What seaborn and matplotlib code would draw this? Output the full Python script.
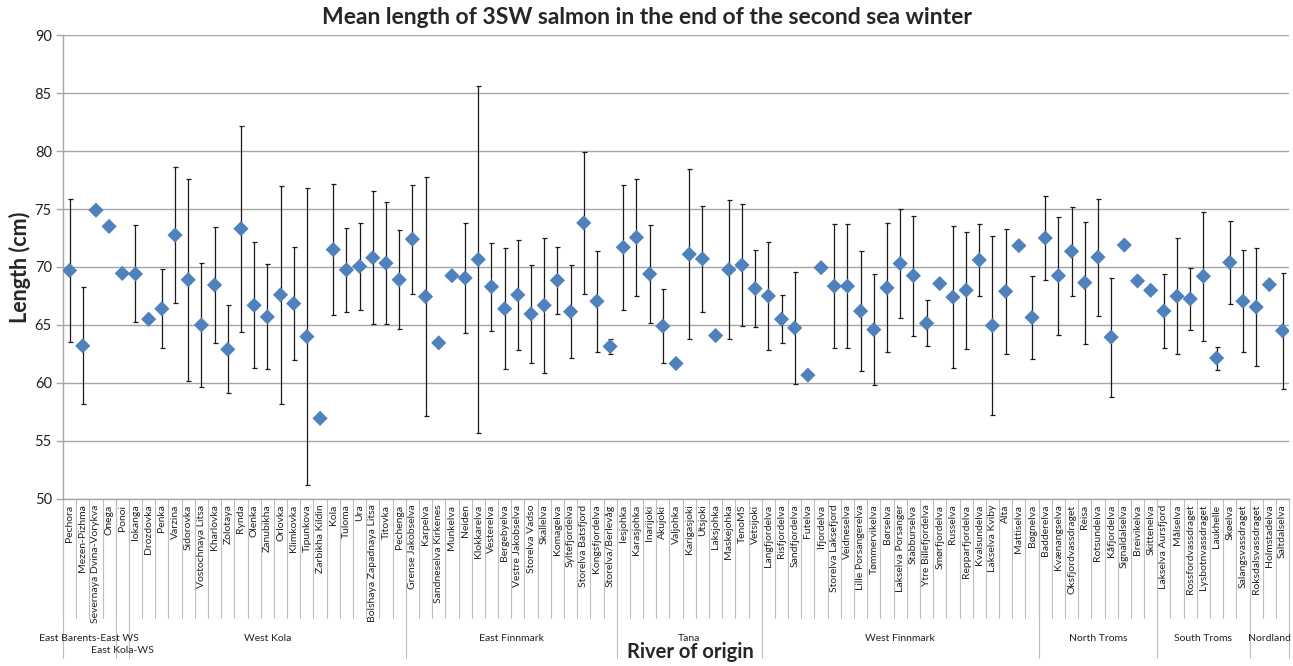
import numpy as np
import pandas as pd
import matplotlib.pyplot as plt
import seaborn as sns
from matplotlib.transforms import blended_transform_factory

# river names, in chart order
rivers = [
    "Pechora", "Mezen-Pizhma", "Severnaya Dvina-Vorykva", "Onega", "Ponoi",
    "Iokanga", "Drozdovka", "Penka", "Varzina", "Sidorovka", "Vostochnaya Litsa",
    "Kharlovka", "Zolotaya", "Rynda", "Olenka", "Zanubikha", "Orlovka", "Klimkovka",
    "Tipunkova", "Zarbikha Kildin", "Kola", "Tuloma", "Ura", "Bolshaya Zapadnaya Litsa",
    "Titovka", "Pechenga",
    "Grense Jakobselva", "Karpelva", "Sandneselva Kirkenes", "Munkelva", "Neiden",
    "Klokkarelva", "Vesterelva", "Bergebyelva", "Vestre Jakobselva", "Storelva Vadso",
    "Skallelva", "Komagelva", "Syltefjordelva", "Storelva Batsfjord", "Kongsfjordelva",
    "Storelva/Berlevåg",
    "Iesjohka", "Karasjohka", "Inarijoki", "Akujoki", "Valjohka", "Karigasjoki",
    "Utsjoki", "Laksjohka", "Maskejohka", "TenoMS", "Vetsijoki",
    "Langfjordelva", "Risfjordelva", "Sandfjordelva", "Futelva", "Ifjordelva",
    "Storelva Laksefjord", "Veidneselva", "Lille Porsangerelva", "Tømmervikelva",
    "Børselva", "Lakselva Porsanger", "Stabburselva", "Ytre Billefjordelva",
    "Smørfjordelva", "Russelva", "Repparfjordelva", "Kvalsundelva", "Lakselva Kviby",
    "Alta", "Mattiselva", "Bøgnelva",
    "Badderelva", "Kvænangselva", "Oksfjordvassdraget", "Reisa", "Rotsundelva",
    "Kåfjordelva", "Signaldalselva", "Breivikelva", "Skittenelva",
    "Lakselva Aursfjord", "Målselva", "Rossfordvassdraget", "Lysbotnvassdraget",
    "Laukhelle", "Skøelva", "Salangsvassdraget",
    "Roksdalsvassdraget", "Holmstadelva", "Saltdalselva",
]

mean_length = [
    69.7, 63.2, 74.9, 73.5, 69.45,
    69.4, 65.5, 66.4, 72.75, 68.9, 65.0, 68.45, 62.9, 73.3, 66.7, 65.7, 67.6, 66.85,
    64.0, 56.95, 71.5, 69.75, 70.05, 70.8, 70.33, 68.9,
    72.4, 67.45, 63.46, 69.25, 69.05, 70.65, 68.3, 66.4, 67.6, 65.95,
    66.7, 68.85, 66.15, 73.8, 67.05, 63.15,
    71.7, 72.55, 69.4, 64.9, 61.68, 71.1, 70.7, 64.09, 69.77, 70.17, 68.14,
    67.5, 65.5, 64.75, 60.68, 69.94, 68.35, 68.35, 66.2, 64.6, 68.2, 70.3, 69.25,
    65.15, 68.57, 67.4, 68.0, 70.6, 64.95, 67.9, 71.84, 65.65,
    72.5, 69.25, 71.35, 68.65, 70.85, 63.95, 71.89, 68.8, 67.99,
    66.2, 67.48, 67.25, 69.2, 62.15, 70.4, 67.05,
    66.55, 68.48, 64.5,
]

# standard deviation, nan = no error bar
sd_length = [
    6.2, 5.05, np.nan, np.nan, np.nan,
    4.18, np.nan, 3.4, 5.85, 8.7, 5.38, 5.03, 3.8, 8.87, 5.43, 4.52, 9.38, 4.88,
    12.77, np.nan, 5.63, 3.63, 3.78, 5.72, 5.26, 4.25,
    4.69, 10.31, np.nan, np.nan, 4.76, 14.97, 3.78, 5.2, 4.74, 4.25,
    5.82, 2.9, 4.03, 6.15, 4.35, 0.62,
    5.37, 5.05, 4.2, 3.18, np.nan, 7.32, 4.58, np.nan, 5.98, 5.22, 3.34,
    4.62, 2.05, 4.85, np.nan, np.nan, 5.37, 5.32, 5.14, 4.77, 5.56, 4.69, 5.17,
    1.97, np.nan, 6.13, 5.05, 3.12, 7.69, 5.41, np.nan, 3.59,
    3.59, 5.08, 3.83, 5.25, 5.04, 5.12, np.nan, np.nan, np.nan,
    3.2, 5.0, 2.64, 5.57, 0.99, 3.59, 4.42,
    5.12, np.nan, 5.0,
]

group_names = ["East Barents-East WS", "East Kola-WS", "West Kola", "East Finnmark", "Tana",
               "West Finnmark", "North Troms", "South Troms", "Nordland"]
group_sizes = [4, 1, 21, 16, 11, 21, 9, 7, 3]

df = pd.DataFrame({"river": rivers, "mean": mean_length, "sd": sd_length})
df["pos"] = np.arange(len(df))

sns.set_theme(style="white")
plt.rcParams['font.family'] = ['Lato', 'DejaVu Sans']

fig = plt.figure(figsize=(12.93, 6.66), dpi=100)
ax = fig.add_axes([0.0487, 0.2508, 0.9483, 0.6966])

grid_col = '#a6a6a6'
bars = df.dropna(subset=["sd"])
ax.errorbar(bars["pos"], bars["mean"], yerr=bars["sd"], fmt='none', ecolor='#1a1a1a',
            elinewidth=0.9, capsize=1.8, capthick=0.9, zorder=2)
sns.scatterplot(data=df, x="pos", y="mean", marker="D", s=60, color="#4f81bd",
                edgecolor="none", ax=ax, zorder=3)

ax.set_xlim(-0.5, len(rivers) - 0.5)
ax.set_ylim(50, 90)
ax.set_yticks(range(50, 91, 5))
ax.yaxis.grid(True, color=grid_col, linewidth=1.0)
ax.set_axisbelow(True)
ax.set_xticks(df["pos"])
ax.set_xticklabels(rivers, rotation=90, fontsize=7.5, color='#222222')
ax.tick_params(axis='x', length=0, pad=4)
ax.tick_params(axis='y', length=5, width=1, color=grid_col, labelsize=10.5,
               labelcolor='#222222', pad=3, left=True)
ax.set_xlabel("")
ax.set_ylabel("")
for side in ["top", "right"]:
    ax.spines[side].set_visible(False)
for side in ["left", "bottom"]:
    ax.spines[side].set_color(grid_col)
    ax.spines[side].set_linewidth(1.0)

# category table lines below the axis
trans = blended_transform_factory(ax.transData, ax.transAxes)
for b in np.arange(len(rivers) + 1) - 0.5:
    ax.plot([b, b], [0, -0.256], transform=trans, color='#bfbfbf', lw=0.8, clip_on=False)

start = 0
for i, (name, n) in enumerate(zip(group_names, group_sizes)):
    edge = start - 0.5
    ax.plot([edge, edge], [0, -0.343], transform=trans, color='#bfbfbf', lw=0.8, clip_on=False)
    y = -0.327 if name == "East Kola-WS" else -0.3
    ax.text(start + n / 2 - 0.5, y, name, transform=trans, ha='center', va='center',
            fontsize=7.5, color='#222222')
    start += n
ax.plot([start - 0.5] * 2, [0, -0.343], transform=trans, color='#bfbfbf', lw=0.8, clip_on=False)

fig.text(0.5, 0.973, "Mean length of 3SW salmon in the end of the second sea winter",
         ha='center', va='center', fontsize=16.5, fontweight='bold')
fig.text(0.0155, 0.599, "Length (cm)", rotation=90, ha='center', va='center',
         fontsize=15.5, fontweight='bold')
fig.text(0.5336, 0.021, "River of origin", ha='center', va='center',
         fontsize=14.5, fontweight='bold')

fig.savefig("out.png", dpi=100)
